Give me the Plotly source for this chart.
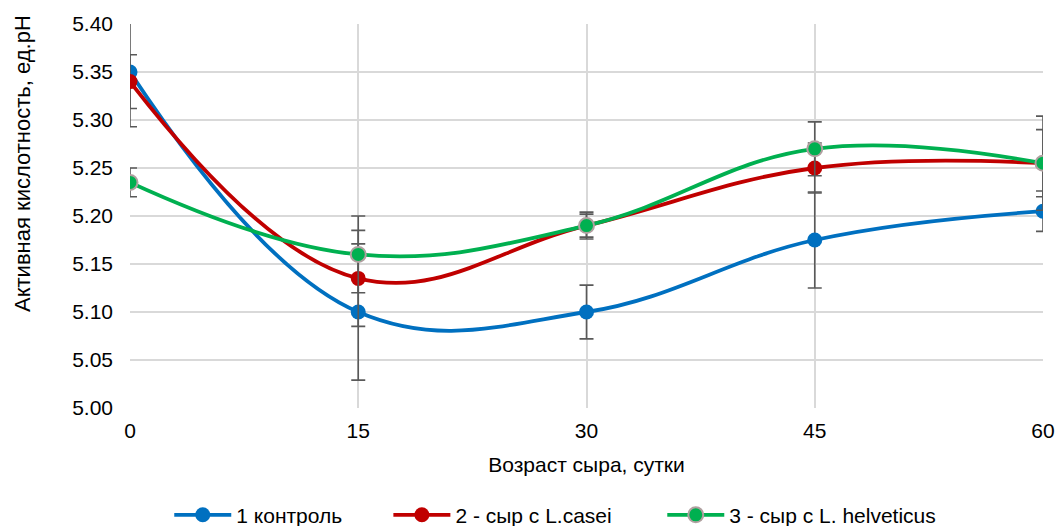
import plotly.graph_objects as go

days = [0, 15, 30, 45, 60]
names = ["1 контроль", "2 - сыр с L.casei", "3 - сыр с L. helveticus"]
control = [5.35, 5.10, 5.10, 5.175, 5.205]
casei = [5.34, 5.135, 5.19, 5.25, 5.255]
helveticus = [5.235, 5.16, 5.19, 5.27, 5.255]
err_control = [0.057, 0.071, 0.028, 0.05, 0.021]
err_casei = [0.028, 0.05, 0.012, 0.026, 0.049]
err_helveticus = [0.015, 0.04, 0.014, 0.028, 0.035]
colors = ["#0070C0", "#C00000", "#00B050"]
y_ticks = [5.00, 5.05, 5.10, 5.15, 5.20, 5.25, 5.30, 5.35, 5.40]
x_title = "Возраст сыра, сутки"
y_title = "Активная кислотность, ед.pH"

FONT = "Liberation Sans, Arial, sans-serif"
FS = 21
fig = go.Figure()
series = [control, casei, helveticus]
errs = [err_control, err_casei, err_helveticus]
legends = ["legend", "legend2", "legend3"]
for i in range(3):
    marker = dict(size=15, color=colors[i])
    if i == 2:
        marker = dict(size=15, color=colors[i], line=dict(color="#B0A0A0", width=2))
    fig.add_trace(go.Scatter(
        x=days, y=series[i], name=names[i], mode="lines+markers",
        line=dict(color=colors[i], width=3.8, shape="spline", smoothing=1.15),
        marker=marker, legend=legends[i],
        error_y=dict(type="data", array=errs[i], visible=True, color="#595959",
                     thickness=1.6, width=7),
    ))

leg_common = dict(orientation="h", yanchor="middle", y=-0.279, xanchor="left",
                  font=dict(size=FS), bgcolor="rgba(0,0,0,0)", itemwidth=57)
fig.update_layout(
    width=1058, height=526,
    margin=dict(l=130, r=15, t=24, b=118, autoexpand=False),
    paper_bgcolor="white", plot_bgcolor="white",
    font=dict(family=FONT, size=FS, color="#000000"),
    showlegend=True,
    legend=dict(x=0.043, **leg_common),
    legend2=dict(x=0.283, **leg_common),
    legend3=dict(x=0.583, **leg_common),
    xaxis=dict(range=[0, 60], tickvals=days, ticktext=[str(d) for d in days],
               showgrid=True, gridcolor="#D9D9D9", gridwidth=1.5, zeroline=False,
               showline=False, ticks="", tickfont=dict(size=FS), automargin=False,
               ticklabelstandoff=8,
               title=dict(text=x_title, font=dict(size=FS), standoff=16)),
    yaxis=dict(range=[5.0, 5.4], tickvals=y_ticks, ticktext=[f"{v:.2f}" for v in y_ticks],
               showgrid=True, gridcolor="#D9D9D9", gridwidth=1.5, zeroline=False,
               showline=False, ticks="", tickfont=dict(size=FS), automargin=False,
               ticklabelstandoff=16),
    annotations=[dict(text=y_title, textangle=-90, xref="paper", yref="paper",
                      x=-0.1183, y=0.638, xanchor="center", yanchor="middle",
                      showarrow=False, font=dict(size=22, family=FONT))],
)
fig.write_html("out.html", config={"displayModeBar": False},
               post_script="document.body.style.margin='0';document.body.style.overflow='hidden';")
